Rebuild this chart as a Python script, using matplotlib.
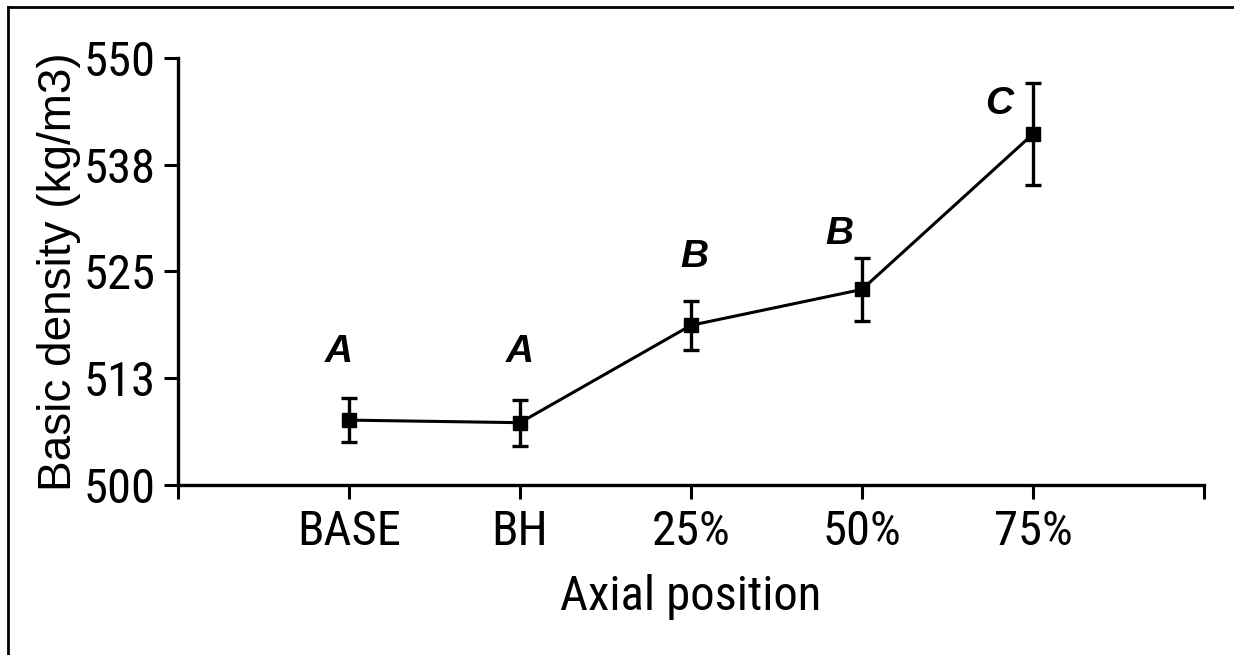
import matplotlib.pyplot as plt
from matplotlib.lines import Line2D

plt.rcParams['font.family'] = ['Roboto Condensed', 'Liberation Sans', 'DejaVu Sans']
regular = ['Liberation Sans', 'DejaVu Sans']

# mean basic density per axial position, with error bars and group letters
positions = ["BASE", "BH", "25%", "50%", "75%"]
density = [507.6, 507.3, 518.7, 522.9, 541.1]
err = [2.6, 2.7, 2.9, 3.7, 6.0]
groups = ["A", "A", "B", "B", "C"]
group_x = [0.94, 2.0, 3.02, 3.87, 4.8]
group_y = [515.6, 515.6, 526.7, 529.4, 544.6]

yticks = [500, 512.5, 525, 537.5, 550]
ytick_labels = ["500", "513", "525", "538", "550"]

fig = plt.figure(figsize=(12.34, 6.55), dpi=100)
ax = fig.add_axes([0.1442, 0.2595, 0.8315, 0.652])

x = list(range(1, len(positions) + 1))
ax.errorbar(x, density, yerr=err, color="black", lw=2.2, elinewidth=2.4,
            capsize=6, capthick=2.4, marker="s", markersize=10.5, zorder=3)

for gx, gy, g in zip(group_x, group_y, groups):
    ax.text(gx, gy, g, ha="center", va="center", fontsize=28,
            fontweight="bold", fontstyle="italic", family=regular)

ax.set_xlim(0, 6)
ax.set_ylim(500, 550)
ax.set_xticks([0] + x + [6])
ax.set_xticklabels([""] + positions + [""])
ax.set_yticks(yticks)
ax.set_yticklabels(ytick_labels)

for side in ["top", "right"]:
    ax.spines[side].set_visible(False)
for side in ["left", "bottom"]:
    ax.spines[side].set_linewidth(2.4)

ax.tick_params(axis="both", width=2.2, length=10, labelsize=35, pad=6)
ax.tick_params(axis="x", pad=7)

ax.set_xlabel("Axial position", fontsize=35, labelpad=14)
ax.set_ylabel("Basic density (kg/m3)", fontsize=33, labelpad=2, family=regular)

# frame lines along the top and left edges of the figure
fig.add_artist(Line2D([8 / 1234, 1], [1 - 7 / 655, 1 - 7 / 655], color="black", lw=2))
fig.add_artist(Line2D([8 / 1234, 8 / 1234], [0, 1 - 7 / 655], color="black", lw=2))

fig.savefig("out.png", dpi=100)
